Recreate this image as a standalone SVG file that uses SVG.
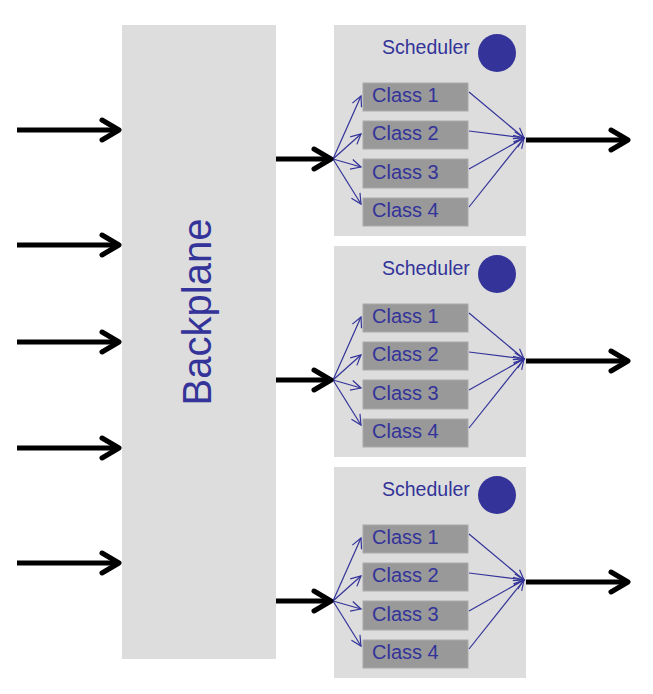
<svg xmlns="http://www.w3.org/2000/svg" width="653" height="694" viewBox="0 0 653 694">
<style>
.bp{fill:#dddddd}
.sch{fill:#dddddd}
.cls{fill:#999999;stroke:#aaaaaa;stroke-width:1}
.t{font-family:"Liberation Sans",Arial,sans-serif;fill:#333399}
.ct{font-size:20px}
.st{font-size:19.5px}
.thick{stroke:#000;stroke-width:5;fill:none;marker-end:url(#big)}
.thin{stroke:#333399;stroke-width:1.2;fill:none;marker-end:url(#small)}
</style>
<defs>
<marker id="big" markerUnits="userSpaceOnUse" markerWidth="30" markerHeight="30" viewBox="-20 -15 25 30" refX="0" refY="0" orient="auto">
<polyline points="-17,-10 0,0 -17,10" fill="none" stroke="#000" stroke-width="5" stroke-linecap="round" stroke-linejoin="round"/>
</marker>
<marker id="small" markerUnits="userSpaceOnUse" markerWidth="14" markerHeight="14" viewBox="-11 -7 13 14" refX="0" refY="0" orient="auto">
<polyline points="-10,-5 0,0 -10,5" fill="none" stroke="#333399" stroke-width="1.2"/>
</marker>
<g id="schedTpl">
<rect class="sch" x="334" y="25" width="192" height="211"/>
<text class="t st" x="382" y="54">Scheduler</text>
<circle cx="497" cy="53" r="19" fill="#333399"/>
<rect class="cls" x="363" y="83" width="105" height="28"/>
<rect class="cls" x="363" y="121" width="105" height="28"/>
<rect class="cls" x="363" y="159" width="105" height="29"/>
<rect class="cls" x="363" y="198" width="105" height="28"/>
<text class="t ct" x="372" y="102">Class 1</text>
<text class="t ct" x="372" y="140">Class 2</text>
<text class="t ct" x="372" y="179">Class 3</text>
<text class="t ct" x="372" y="217">Class 4</text>
<path class="thin" d="M333,159 L361,96"/>
<path class="thin" d="M333,159 L361,134"/>
<path class="thin" d="M333,159 L361,167"/>
<path class="thin" d="M333,159 L361,204"/>
<path class="thin" d="M469,92 L524,138"/>
<path class="thin" d="M469,131 L524,138"/>
<path class="thin" d="M469,169 L524,138"/>
<path class="thin" d="M469,207 L524,138"/>
</g>
</defs>
<g id="backplane">
<rect class="bp" x="122" y="25" width="154" height="634"/>
<text class="t" font-size="40" text-anchor="middle" transform="translate(211,312) rotate(-90)">Backplane</text>
</g>
<g id="scheduler1"><use href="#schedTpl"/></g>
<g id="scheduler2"><use href="#schedTpl" transform="translate(0,221)"/></g>
<g id="scheduler3"><use href="#schedTpl" transform="translate(0,442)"/></g>
<g id="connectors">
<path class="thick" d="M17,130 L119,130"/>
<path class="thick" d="M17,245 L119,245"/>
<path class="thick" d="M17,342 L119,342"/>
<path class="thick" d="M17,448 L119,448"/>
<path class="thick" d="M17,563 L119,563"/>
<path class="thick" d="M276,159 L331,159"/>
<path class="thick" d="M276,380 L331,380"/>
<path class="thick" d="M276,601 L331,601"/>
<path class="thick" d="M526,140 L628,140"/>
<path class="thick" d="M526,361 L628,361"/>
<path class="thick" d="M526,582 L628,582"/>
</g>
</svg>
